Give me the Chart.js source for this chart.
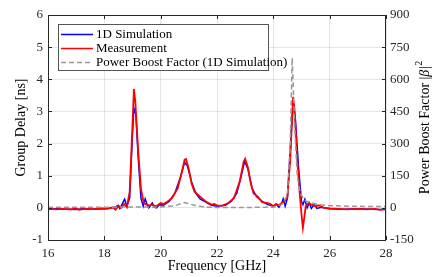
<!DOCTYPE html>
<html>
<head>
<meta charset="utf-8">
<script src="https://cdn.jsdelivr.net/npm/chart.js@4/dist/chart.umd.min.js"></script>
<style>
  html, body { margin: 0; padding: 0; background: #fff; }
  #wrap { width: 436px; height: 277px; }
</style>
</head>
<body>
<div id="wrap"><canvas id="chart" width="436" height="277"></canvas></div>
<script>
// 1D simulation group delay [ns]
const simFreq = [16.0, 16.3, 16.6, 17.0, 17.3, 17.6, 18.0, 18.3, 18.4, 18.5, 18.55, 18.65, 18.72, 18.8, 18.9, 19.0, 19.05, 19.12, 19.2, 19.3, 19.38, 19.45, 19.52, 19.58, 19.7, 19.78, 19.85, 19.95, 20.1, 20.3, 20.5, 20.7, 20.85, 20.95, 21.1, 21.25, 21.4, 21.6, 21.8, 22.0, 22.3, 22.5, 22.7, 22.85, 22.98, 23.1, 23.25, 23.4, 23.6, 23.8, 24.0, 24.1, 24.2, 24.3, 24.35, 24.42, 24.5, 24.6, 24.7, 24.78, 24.9, 25.0, 25.05, 25.12, 25.2, 25.28, 25.35, 25.45, 25.55, 25.7, 26.0, 26.5, 27.0, 27.5, 27.8, 28.0];
const simDelay = [-0.05, -0.03, -0.04, -0.05, -0.02, -0.04, -0.02, 0.0, 0.03, 0.08, -0.02, 0.15, 0.27, 0.05, 0.3, 2.3, 3.1, 2.9, 1.6, 0.3, 0.05, 0.28, 0.1, 0.0, 0.15, 0.02, 0.0, 0.1, 0.08, 0.2, 0.45, 0.95, 1.42, 1.3, 0.8, 0.45, 0.28, 0.18, 0.08, 0.05, 0.08, 0.2, 0.45, 0.95, 1.45, 1.2, 0.6, 0.35, 0.2, 0.1, 0.05, 0.12, 0.02, 0.15, 0.28, 0.05, 0.3, 1.8, 3.3, 2.8, 1.2, 0.2, 0.1, 0.27, 0.0, 0.15, -0.02, 0.1, -0.02, 0.02, -0.03, -0.04, -0.03, -0.04, -0.05, -0.05];

// measured group delay [ns]
const measFreq = [16.0, 16.3, 16.5, 16.8, 17.0, 17.1, 17.3, 17.6, 17.9, 18.1, 18.3, 18.4, 18.5, 18.6, 18.7, 18.8, 18.9, 19.0, 19.05, 19.1, 19.2, 19.3, 19.4, 19.5, 19.6, 19.7, 19.8, 19.9, 20.0, 20.1, 20.2, 20.4, 20.6, 20.75, 20.85, 20.9, 21.0, 21.1, 21.2, 21.4, 21.6, 21.8, 21.9, 22.0, 22.2, 22.4, 22.6, 22.8, 22.95, 23.0, 23.1, 23.2, 23.3, 23.45, 23.6, 23.8, 23.9, 24.0, 24.1, 24.2, 24.3, 24.4, 24.5, 24.6, 24.7, 24.75, 24.85, 24.95, 25.0, 25.05, 25.1, 25.15, 25.25, 25.35, 25.5, 25.6, 25.8, 26.0, 26.3, 26.6, 27.0, 27.3, 27.6, 27.8, 28.0];
const measDelay = [-0.03, -0.05, -0.03, -0.05, -0.02, -0.06, -0.03, -0.04, -0.02, -0.03, 0.02, -0.06, 0.05, 0.0, 0.12, 0.02, 0.5, 2.6, 3.7, 3.3, 1.8, 0.6, 0.15, 0.1, 0.08, 0.1, 0.05, 0.08, 0.15, 0.12, 0.17, 0.3, 0.6, 1.1, 1.5, 1.52, 1.2, 0.75, 0.5, 0.35, 0.2, 0.1, 0.12, 0.08, 0.07, 0.15, 0.3, 0.8, 1.45, 1.53, 1.25, 0.75, 0.45, 0.35, 0.18, 0.15, 0.12, 0.05, 0.12, 0.08, 0.15, 0.2, 0.35, 1.5, 3.45, 3.1, 1.5, 0.3, -0.2, -0.62, -0.3, 0.05, 0.15, 0.1, 0.05, 0.08, 0.0, -0.02, -0.03, -0.05, -0.03, -0.05, -0.03, -0.06, -0.03];

// power boost factor |beta|^2 (right axis)
const boostFreq = [16.0, 18.0, 19.0, 20.0, 20.5, 20.85, 21.2, 21.6, 22.0, 23.0, 24.0, 24.3, 24.5, 24.6, 24.67, 24.75, 24.85, 24.95, 25.1, 25.3, 25.6, 26.0, 27.0, 28.0];
const boostVal = [3, 3, 4, 4, 10, 25, 12, 3, 2, 2, 3, 15, 60, 300, 700, 400, 150, 70, 35, 25, 15, 10, 7, 6];

const xTicks = [16, 18, 20, 22, 24, 26, 28];
const leftTicks = [-1, 0, 1, 2, 3, 4, 5, 6];
const rightTicks = [-150, 0, 150, 300, 450, 600, 750, 900];

const serif = "'Liberation Serif', 'DejaVu Serif', serif";
const ink = "#262626";

function pts(xs, ys) {
  return xs.map((x, i) => ({ x: x, y: ys[i] }));
}

// box, inward ticks, titles and legend like the MATLAB figure
const decor = {
  id: "decor",
  afterDatasetsDraw(chart) {
    const { ctx, chartArea: a, scales } = chart;
    ctx.save();
    ctx.strokeStyle = ink;
    ctx.lineWidth = 1;
    ctx.strokeRect(a.left + 0.5, a.top + 0.5, a.right - a.left - 1, a.bottom - a.top);

    ctx.beginPath();
    xTicks.forEach(t => {
      const x = Math.round(scales.x.getPixelForValue(t)) + 0.5;
      ctx.moveTo(x, a.bottom); ctx.lineTo(x, a.bottom - 4);
      ctx.moveTo(x, a.top); ctx.lineTo(x, a.top + 4);
    });
    leftTicks.forEach(t => {
      const y = Math.round(scales.y.getPixelForValue(t)) + 0.5;
      ctx.moveTo(a.left, y); ctx.lineTo(a.left + 4, y);
    });
    rightTicks.forEach(t => {
      const y = Math.round(scales.y1.getPixelForValue(t)) + 0.5;
      ctx.moveTo(a.right, y); ctx.lineTo(a.right - 4, y);
    });
    ctx.stroke();

    // legend
    const lx = 58, ly = 24, lw = 210, lh = 46;
    ctx.fillStyle = "#fff";
    ctx.fillRect(lx, ly, lw, lh);
    ctx.strokeStyle = "#555";
    ctx.strokeRect(lx + 0.5, ly + 0.5, lw, lh);
    const rows = [
      { label: "1D Simulation", color: "#0000ff", dash: [], width: 1.5 },
      { label: "Measurement", color: "#ff0000", dash: [], width: 1.5 },
      { label: "Power Boost Factor (1D Simulation)", color: "#999999", dash: [5, 3], width: 1.5 }
    ];
    ctx.font = "13px " + serif;
    ctx.textBaseline = "middle";
    rows.forEach((r, i) => {
      const y = ly + 10.5 + i * 14;
      ctx.beginPath();
      ctx.setLineDash(r.dash);
      ctx.strokeStyle = r.color;
      ctx.lineWidth = r.width;
      ctx.moveTo(61, y); ctx.lineTo(93, y);
      ctx.stroke();
      ctx.setLineDash([]);
      ctx.fillStyle = "#000";
      ctx.fillText(r.label, 96, y);
    });

    // axis titles
    ctx.fillStyle = "#000";
    ctx.font = "14px " + serif;
    ctx.textAlign = "center";
    ctx.textBaseline = "middle";
    ctx.fillText("Frequency [GHz]", (a.left + a.right) / 2, 266);

    const cy = (a.top + a.bottom) / 2;
    ctx.save();
    ctx.translate(21, cy);
    ctx.rotate(-Math.PI / 2);
    ctx.fillText("Group Delay [ns]", 0, 0);
    ctx.restore();

    ctx.save();
    ctx.translate(425, cy);
    ctx.rotate(-Math.PI / 2);
    const p1 = "Power Boost Factor |", p2 = "\u03B2", p3 = "|", p4 = "2";
    const f = "14px " + serif, fi = "italic 14px " + serif, fs = "10px " + serif;
    ctx.font = f; const w1 = ctx.measureText(p1).width, w3 = ctx.measureText(p3).width;
    ctx.font = fi; const w2 = ctx.measureText(p2).width + 1;
    ctx.font = fs; const w4 = ctx.measureText(p4).width;
    let x = -(w1 + w2 + w3 + w4) / 2;
    ctx.textAlign = "left";
    ctx.font = f; ctx.fillText(p1, x, 0); x += w1;
    ctx.font = fi; ctx.fillText(p2, x, 0); x += w2;
    ctx.font = f; ctx.fillText(p3, x, 0); x += w3;
    ctx.font = fs; ctx.fillText(p4, x, -6);
    ctx.restore();

    ctx.restore();
  }
};

new Chart(document.getElementById("chart"), {
  type: "line",
  data: {
    datasets: [
      { label: "1D Simulation", data: pts(simFreq, simDelay), yAxisID: "y", borderColor: "#0000ff", borderWidth: 1.5, order: 3 },
      { label: "Measurement", data: pts(measFreq, measDelay), yAxisID: "y", borderColor: "#ff0000", borderWidth: 1.8, order: 2 },
      { label: "Power Boost Factor (1D Simulation)", data: pts(boostFreq, boostVal), yAxisID: "y1", borderColor: "#999999", borderWidth: 1.5, borderDash: [5, 3], order: 1 }
    ]
  },
  options: {
    responsive: false,
    animation: false,
    layout: { padding: { top: 15, left: 0, right: 0, bottom: 0 } },
    elements: { point: { radius: 0 }, line: { tension: 0 } },
    plugins: { legend: { display: false }, tooltip: { enabled: false } },
    scales: {
      x: {
        type: "linear", min: 16, max: 28,
        afterBuildTicks: s => { s.ticks = xTicks.map(v => ({ value: v })); },
        afterFit: s => { s.height = 37; },
        grid: { color: "rgba(0,0,0,0.1)", drawTicks: false },
        border: { display: false },
        ticks: { color: ink, font: { family: serif, size: 13 }, padding: 6, maxRotation: 0 }
      },
      y: {
        position: "left", min: -1, max: 6,
        afterBuildTicks: s => { s.ticks = leftTicks.map(v => ({ value: v })); },
        afterFit: s => { s.width = 48; },
        grid: { color: "rgba(0,0,0,0.1)", drawTicks: false },
        border: { display: false },
        ticks: { color: ink, font: { family: serif, size: 13 }, padding: 5 }
      },
      y1: {
        position: "right", min: -150, max: 900,
        afterBuildTicks: s => { s.ticks = rightTicks.map(v => ({ value: v })); },
        afterFit: s => { s.width = 50; },
        grid: { drawOnChartArea: false, drawTicks: false },
        border: { display: false },
        ticks: { color: ink, font: { family: serif, size: 13 }, padding: 4 }
      }
    }
  },
  plugins: [decor]
});
</script>
</body>
</html>
